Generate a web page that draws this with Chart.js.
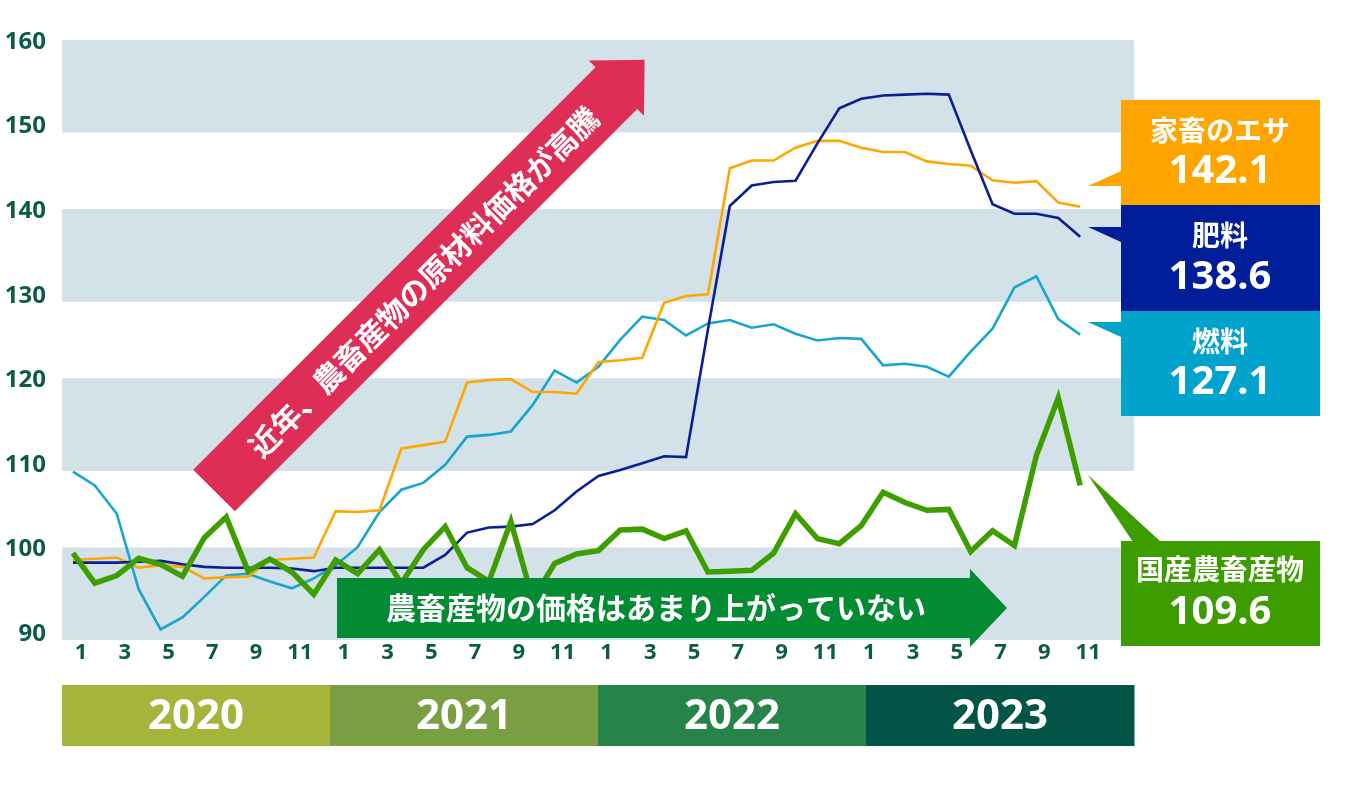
<!DOCTYPE html>
<html lang="ja">
<head>
<meta charset="utf-8">
<title>農畜産物と原材料の価格指数</title>
<script src="https://cdn.jsdelivr.net/npm/chart.js@4.4.1/dist/chart.umd.min.js"></script>
<style>
  html, body { margin: 0; padding: 0; background: #fff; }
  #wrap { position: relative; width: 1370px; height: 792px; }
</style>
</head>
<body>
<div id="wrap"><canvas id="chart"></canvas></div>
<script>
// Data: monthly index, Jan 2020 - Nov 2023
const years = ['2020', '2021', '2022', '2023'];
const months = [1, 2, 3, 4, 5, 6, 7, 8, 9, 10, 11, 12];

const feed = [
  98.75, 98.9, 99.05, 97.84, 98.14, 97.94, 96.57, 96.72, 96.77, 98.75, 98.9, 99.05,
  104.53, 104.43, 104.63, 111.93, 112.33, 112.74, 119.73, 120.03, 120.13, 118.61, 118.61, 118.41,
  122.16, 122.36, 122.67, 129.16, 129.97, 130.17, 145.07, 145.98, 145.98, 147.5, 148.31, 148.31,
  147.5, 146.99, 146.99, 145.88, 145.57, 145.37, 143.65, 143.35, 143.55, 141.01, 140.51
];
const fertilizer = [
  98.44, 98.44, 98.44, 98.54, 98.65, 98.24, 97.94, 97.84, 97.84, 97.84, 97.74, 97.43,
  97.84, 97.84, 97.84, 97.84, 97.84, 99.36, 101.99, 102.6, 102.7, 103.0, 104.63, 106.86,
  108.68, 109.39, 110.2, 111.01, 110.91, 126.01, 140.61, 143.04, 143.44, 143.6, 148.01, 152.16,
  153.28, 153.68, 153.78, 153.88, 153.78, 147.2, 140.81, 139.7, 139.7, 139.19, 136.96
];
const fuel = [
  109.19, 107.57, 104.22, 95.3, 90.54, 91.96, 94.39, 96.93, 97.13, 96.22, 95.41, 96.57,
  98.14, 100.27, 104.43, 107.06, 107.87, 110.0, 113.34, 113.54, 113.95, 117.09, 121.15, 119.73,
  121.6, 124.8, 127.53, 127.13, 125.3, 126.72, 127.13, 126.22, 126.62, 125.51, 124.7, 125.0,
  124.9, 121.76, 121.96, 121.6, 120.44, 123.38, 126.11, 130.98, 132.3, 127.23, 125.4
];
const domestic = [
  99.56, 96.01, 96.92, 98.95, 98.24, 96.82, 101.38, 103.82, 97.43, 98.85, 97.33, 94.7,
  98.75, 97.13, 99.97, 96.01, 99.97, 102.7, 97.84, 96.22, 103.31, 94.09, 98.34, 99.46,
  99.86, 102.3, 102.4, 101.28, 102.2, 97.33, 97.43, 97.53, 99.56, 104.22, 101.28, 100.68,
  102.8, 106.76, 105.54, 104.63, 104.73, 99.76, 102.2, 100.47, 111.11, 117.91, 107.57
];

// Callout boxes (latest values as printed)
const calloutNames = ['家畜のエサ', '肥料', '燃料', '国産農畜産物'];
const calloutValues = ['142.1', '138.6', '127.1', '109.6'];

const yTicks = [90, 100, 110, 120, 130, 140, 150, 160];
const bandStarts = [90, 110, 130, 150];

const labels = years.flatMap(y => months.map(m => `${y}/${m}`));

const FONT = "'Noto Sans', 'Noto Sans CJK JP', sans-serif";
const JP_FONT = "'Noto Sans CJK JP', 'Noto Sans', sans-serif";
const TICK_COLOR = '#0B5B47';
const BAND_RIGHT = 1134;

const yearColors = ['#A5B43A', '#7A9E42', '#268448', '#025546'];
const calloutColors = ['#FFA500', '#001E9A', '#00A3CB', '#3D9C00'];

function drawArrow(ctx, x0, y0, angle, shaftLen, shaftW, headLen, headW, color) {
  ctx.save();
  ctx.translate(x0, y0);
  ctx.rotate(angle);
  ctx.fillStyle = color;
  ctx.beginPath();
  ctx.moveTo(0, -shaftW / 2);
  ctx.lineTo(shaftLen, -shaftW / 2);
  ctx.lineTo(shaftLen, -headW / 2);
  ctx.lineTo(shaftLen + headLen, 0);
  ctx.lineTo(shaftLen, headW / 2);
  ctx.lineTo(shaftLen, shaftW / 2);
  ctx.lineTo(0, shaftW / 2);
  ctx.closePath();
  ctx.fill();
  ctx.restore();
}

const decor = {
  id: 'decor',
  beforeDatasetsDraw(chart) {
    const { ctx, chartArea, scales: { y } } = chart;
    ctx.save();
    // horizontal bands (drawn a little fuller than the tick span, as in the original)
    ctx.fillStyle = '#D3E1E8';
    bandStarts.forEach(v => {
      const top = y.getPixelForValue(v + 10) - 2;
      const bottom = y.getPixelForValue(v) + 6;
      ctx.fillRect(chartArea.left, top, BAND_RIGHT - chartArea.left, bottom - top);
    });

    // year bar
    const w = (BAND_RIGHT - chartArea.left) / years.length;
    years.forEach((yr, i) => {
      const x = chartArea.left + i * w;
      ctx.fillStyle = yearColors[i];
      ctx.fillRect(x, 685, w + 0.5, 61);
      ctx.fillStyle = '#fff';
      ctx.font = `bold 42px ${FONT}`;
      ctx.textAlign = 'center';
      ctx.textBaseline = 'middle';
      ctx.fillText(yr, x + w / 2, 717);
    });
    ctx.restore();
  },
  afterDatasetsDraw(chart) {
    const { ctx } = chart;
    ctx.save();

    // red diagonal arrow
    const ang = -Math.PI / 4;
    drawArrow(ctx, 214, 490.5, ang, 569, 59, 40, 78, '#DF2E55');
    ctx.translate(214, 490.5);
    ctx.rotate(ang);
    ctx.fillStyle = '#fff';
    ctx.font = `bold 30px ${JP_FONT}`;
    ctx.textAlign = 'center';
    ctx.textBaseline = 'middle';
    ctx.fillText('近年、農畜産物の原材料価格が高騰', 296, 1);
    ctx.restore();

    // green horizontal arrow
    ctx.save();
    drawArrow(ctx, 337, 608, 0, 633, 60, 37, 78, '#038B33');
    ctx.fillStyle = '#fff';
    ctx.font = `bold 30px ${JP_FONT}`;
    ctx.textAlign = 'center';
    ctx.textBaseline = 'middle';
    ctx.fillText('農畜産物の価格はあまり上がっていない', 656, 608);
    ctx.restore();

    // callouts
    const boxes = [
      { top: 100, bottom: 205, tri: [[1088, 186], [1121, 171], [1121, 186]], t: 130, v: 172 },
      { top: 205, bottom: 311, tri: [[1088, 227], [1121, 227], [1121, 242]], t: 235, v: 278 },
      { top: 311, bottom: 416, tri: [[1088, 322], [1121, 322], [1121, 337]], t: 341, v: 383 },
      { top: 541, bottom: 646, tri: [[1088, 475], [1133, 542], [1161, 542]], t: 569, v: 613 }
    ];
    ctx.save();
    boxes.forEach((b, i) => {
      ctx.fillStyle = calloutColors[i];
      ctx.fillRect(1121, b.top, 199, b.bottom - b.top);
      ctx.beginPath();
      ctx.moveTo(b.tri[0][0], b.tri[0][1]);
      ctx.lineTo(b.tri[1][0], b.tri[1][1]);
      ctx.lineTo(b.tri[2][0], b.tri[2][1]);
      ctx.closePath();
      ctx.fill();
      ctx.fillStyle = '#fff';
      ctx.textAlign = 'center';
      ctx.textBaseline = 'middle';
      ctx.font = `bold 28px ${JP_FONT}`;
      ctx.fillText(calloutNames[i], 1220, b.t);
      ctx.font = `bold 40px ${FONT}`;
      ctx.fillText(calloutValues[i], 1220, b.v);
    });
    ctx.restore();
  }
};

const lineStyle = { pointRadius: 0, tension: 0, borderJoinStyle: 'miter', fill: false };

new Chart(document.getElementById('chart'), {
  type: 'line',
  data: {
    labels: labels,
    datasets: [
      { label: '国産農畜産物', data: domestic, borderColor: '#3E9E00', borderWidth: 5.5, order: 0, ...lineStyle },
      { label: '肥料', data: fertilizer, borderColor: '#0B1F95', borderWidth: 2.6, order: 1, ...lineStyle },
      { label: '家畜のエサ', data: feed, borderColor: '#FFA600', borderWidth: 2.6, order: 2, ...lineStyle },
      { label: '燃料', data: fuel, borderColor: '#17A6CE', borderWidth: 2.6, order: 3, ...lineStyle }
    ]
  },
  options: {
    responsive: true,
    maintainAspectRatio: false,
    animation: false,
    layout: { padding: { left: 0, top: 42, right: 257, bottom: 0 } },
    plugins: {
      legend: { display: false },
      tooltip: { enabled: false }
    },
    scales: {
      x: {
        offset: true,
        grid: { display: false, drawTicks: false },
        border: { display: false },
        afterFit: s => { s.height = 158; },
        ticks: {
          autoSkip: false,
          maxRotation: 0,
          minRotation: 0,
          padding: 6,
          labelOffset: 8,
          color: TICK_COLOR,
          font: { family: FONT, size: 22, weight: 'bold' },
          callback: (val, idx) => (idx % 2 === 0 ? String(months[idx % 12]) : '')
        }
      },
      y: {
        min: yTicks[0],
        max: yTicks[yTicks.length - 1],
        grid: { display: false, drawTicks: false },
        border: { display: false },
        afterFit: s => { s.width = 62; },
        afterBuildTicks: s => { s.ticks = yTicks.map(v => ({ value: v })); },
        ticks: {
          padding: 16,
          color: TICK_COLOR,
          font: { family: FONT, size: 24, weight: 'bold' }
        }
      }
    }
  },
  plugins: [decor]
});
</script>
</body>
</html>
